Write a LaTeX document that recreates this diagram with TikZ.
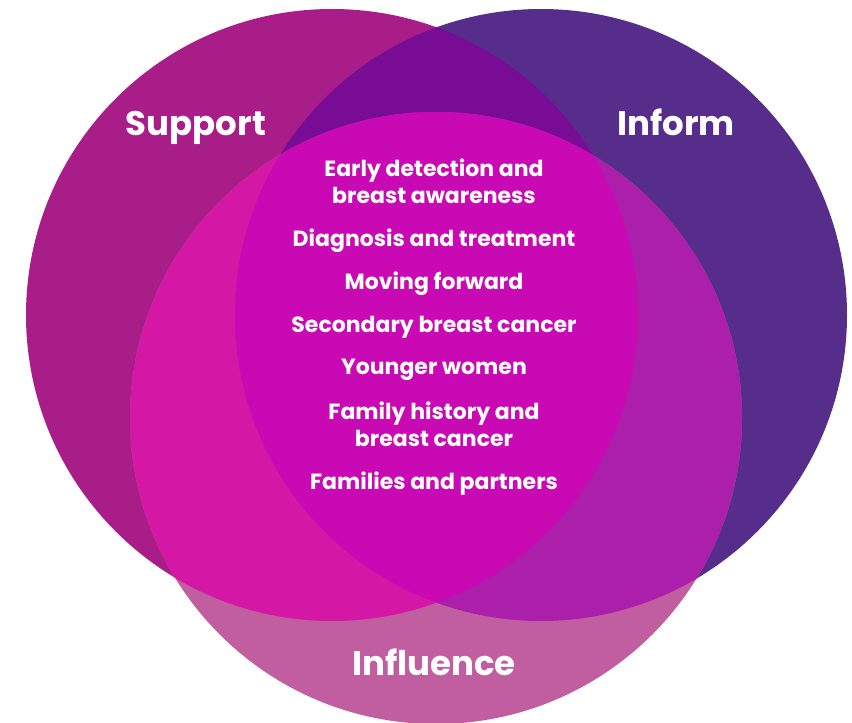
\documentclass[tikz,border=0pt]{standalone}
\usepackage{fontspec}
\setmainfont{Poppins}
\usetikzlibrary{positioning}
\definecolor{supportcol}{HTML}{A91D88}
\definecolor{informcol}{HTML}{572D8B}
\definecolor{influencecol}{HTML}{C05E9F}
\definecolor{supinfcol}{HTML}{780C95}
\definecolor{supinflcol}{HTML}{D417A4}
\definecolor{infinflcol}{HTML}{AB1FAA}
\definecolor{allcol}{HTML}{C90AB4}
\tikzstyle{heading} = [text=white, anchor=base, font=\fontsize{34}{34}\selectfont\bfseries]
\tikzstyle{topic} = [text=white, align=center, font=\fontsize{22}{27}\selectfont\bfseries]

\begin{document}
\begin{tikzpicture}[x=1pt, y=-1pt, node distance=43pt]
    \useasboundingbox (0,0) rectangle (852,723);
    % Circle centres
    \coordinate (sup) at (332,315);
    \coordinate (inf) at (541,315);
    \coordinate (infl) at (436,418);
    % Fill circles
    \fill [supportcol] (sup) circle (306pt);
    \fill [informcol] (inf) circle (306pt);
    \fill [influencecol] (infl) circle (306pt);
    % Overlaps
    \begin{scope}
        \clip (sup) circle (306pt);
        \fill [supinfcol] (inf) circle (306pt);
        \fill [supinflcol] (infl) circle (306pt);
    \end{scope}
    \begin{scope}
        \clip (inf) circle (306pt);
        \fill [infinflcol] (infl) circle (306pt);
        \clip (infl) circle (306pt);
        \fill [allcol] (sup) circle (306pt);
    \end{scope}
    % Place nodes
    \node [heading] (support) at (196,135) {Support};
    \node [heading] (inform) at (676,135) {Inform};
    \node [heading] (influence) at (434,675) {Influence};
    \node [topic] (early) at (434,181) {Early detection and\\breast awareness};
    \node [topic, below of=early, node distance=60pt] (diagnosis) {Diagnosis and treatment};
    \node [topic, below of=diagnosis] (moving) {Moving forward};
    \node [topic, below of=moving] (secondary) {Secondary breast cancer};
    \node [topic, below of=secondary] (younger) {Younger women};
    \node [topic, below of=younger, node distance=54pt] (history) {Family history and\\breast cancer};
    \node [topic, below of=history, node distance=60pt] (families) {Families and partners};
\end{tikzpicture}
\end{document}
